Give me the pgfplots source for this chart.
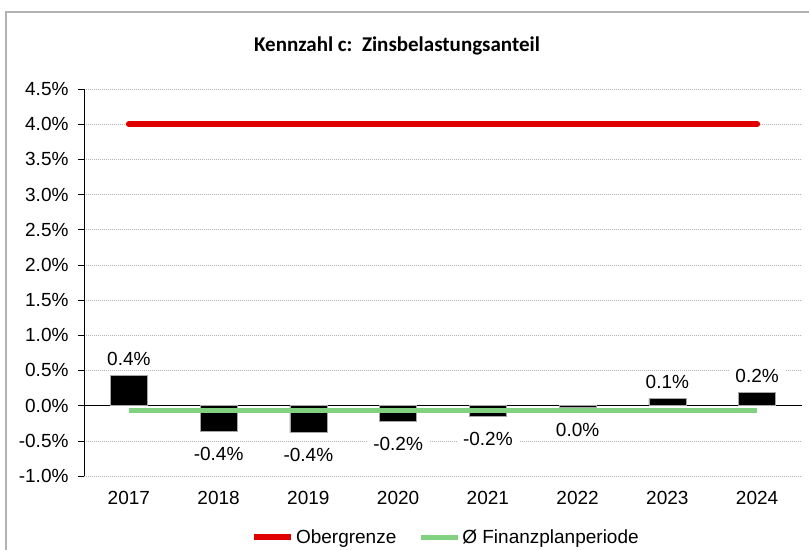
\documentclass[border=0pt]{standalone}
\usepackage{fontspec}
\setmainfont{Liberation Sans}
\newfontfamily\titlefont{Carlito}
\usepackage{pgfplots}
\usepackage{pgfplotstable}
\pgfplotsset{compat=1.18}

\definecolor{grenze}{RGB}{224,0,0}
\definecolor{fpgreen}{RGB}{128,210,128}

% Jahre mit positivem Anteil (Beschriftung oberhalb)
\pgfplotstableread{
x y lab
0 0.426 0.4
6 0.100 0.1
7 0.185 0.2
}\zinspos
% Jahre mit negativem Anteil (Beschriftung unterhalb)
\pgfplotstableread{
x y lab
1 -0.364 -0.4
2 -0.378 -0.4
3 -0.222 -0.2
4 -0.151 -0.2
5 -0.02 0.0
}\zinsneg

\begin{document}
\begin{tikzpicture}
\useasboundingbox (0,0) rectangle (809bp,550bp);
\draw[gray!60, line width=1.5bp] (6bp,0) -- (6bp,538bp) -- (809bp,538bp);
\begin{axis}[
  at={(84bp,74bp)}, anchor=south west,
  scale only axis,
  width=718bp, height=387bp,
  font=\fontsize{19bp}{22bp}\selectfont,
  xmin=-0.5, xmax=7.5,
  ymin=-1, ymax=4.5,
  xtick={0,...,7},
  xticklabels={2017,2018,2019,2020,2021,2022,2023,2024},
  ytick={-1,-0.5,...,4.5},
  yticklabel={\pgfmathprintnumber[fixed,fixed zerofill,precision=1]{\tick}\%},
  /pgf/number format/assume math mode=true,
  axis x line*=bottom, axis y line*=left,
  x axis line style={draw=none},
  y axis line style={-, black, line width=1bp},
  tick align=outside,
  major tick length=6bp,
  xtick style={draw=none},
  ytick style={black, line width=0.6bp},
  xticklabel style={yshift=-6bp},
  yticklabel style={xshift=-6bp},
  ymajorgrids,
  major grid style={gray!60, dash pattern=on 1bp off 1bp, line width=0.6bp},
  extra y ticks={0},
  extra y tick labels={},
  extra y tick style={major grid style={black, solid, line width=1bp}, major tick length=0bp},
  title={\titlefont\bfseries\fontsize{21bp}{24bp}\selectfont Kennzahl c:\ \ Zinsbelastungsanteil},
  title style={at={(0.5,1)}, anchor=center, yshift=37bp, xshift=-46bp},
  legend style={at={(0.504,-0.158)}, anchor=center, draw=none, fill=none,
    legend columns=2, font=\fontsize{19bp}{22bp}\selectfont,
    /tikz/every even column/.append style={column sep=20bp},
    inner sep=0pt},
  legend image code/.code={\draw[#1, line cap=butt] (0bp,0bp) -- (37bp,0bp);},
  legend cell align=left,
  bars/.style={ybar, bar width=37bp, fill=black, draw=gray!70, line width=0.7bp,
    point meta=explicit symbolic,
    nodes near coords={\pgfplotspointmeta\%},
    every node near coord/.append style={fill=white, text=black,
      inner xsep=6bp, inner ysep=2bp,
      font=\fontsize{19bp}{22bp}\selectfont},
    forget plot},
]
\addplot[bars, every node near coord/.append style={anchor=south, outer ysep=8bp}]
  table[x=x, y=y, meta=lab] {\zinspos};
\addplot[bars, every node near coord/.append style={anchor=north, outer ysep=14bp}]
  table[x=x, y=y, meta=lab] {\zinsneg};
\addplot[grenze, line width=6bp, line cap=round] coordinates {(0,4) (7,4)};
\addlegendentry{Obergrenze}
\addplot[fpgreen, line width=5bp] coordinates {(0,-0.075) (7,-0.075)};
\addlegendentry{Ø Finanzplanperiode}
\end{axis}
\end{tikzpicture}
\end{document}
